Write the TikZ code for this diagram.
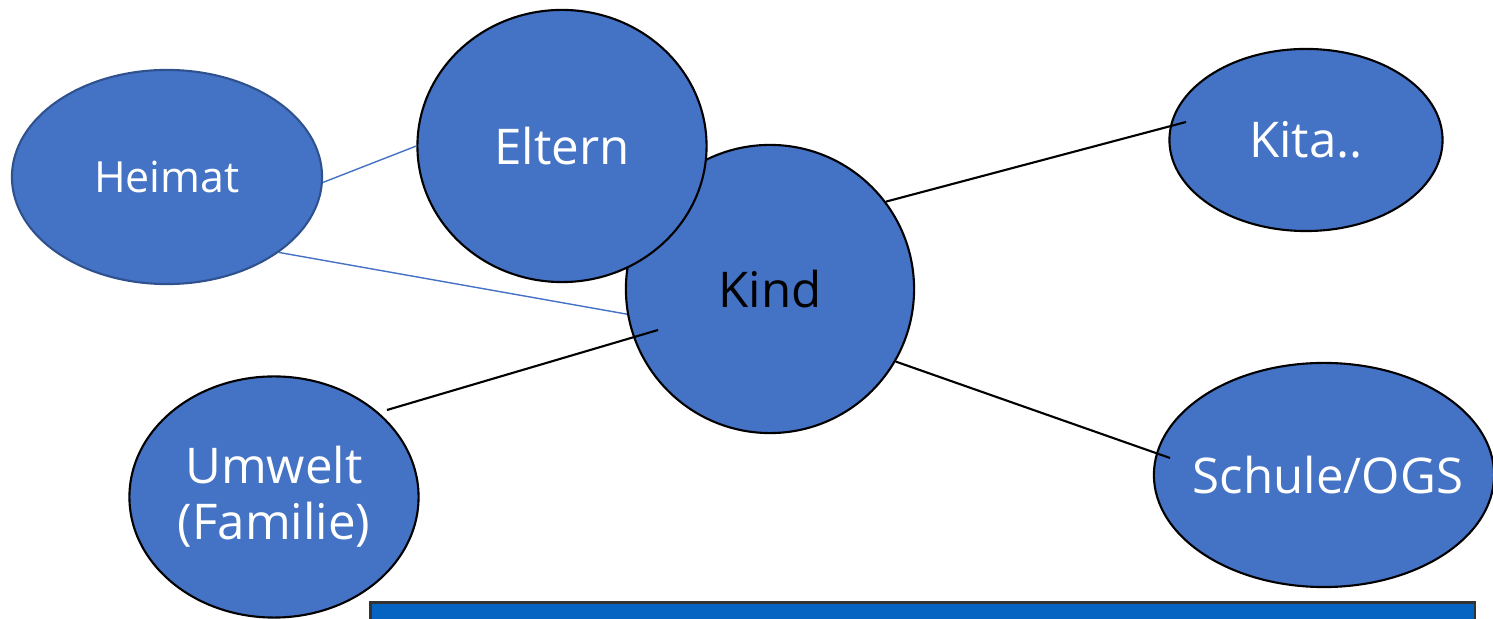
\documentclass[tikz,border=0pt]{standalone}
\usepackage{fontspec}
\setmainfont{Open Sans}
\usetikzlibrary{shapes.geometric}
\definecolor{fillblue}{HTML}{4472C4}
\definecolor{edgeblue}{HTML}{2F528F}
\definecolor{boxblue}{HTML}{0563C1}
\tikzset{
  bubble/.style={ellipse, draw=black, line width=0.6pt, fill=fillblue, inner sep=0pt, text=white, align=center},
  thinlink/.style={draw=fillblue, line width=0.4pt},
  blacklink/.style={draw=black, line width=0.6pt},
}
\begin{document}
\begin{tikzpicture}[x=0.01cm,y=-0.01cm]
\useasboundingbox (0,0) rectangle (1493,619);
% Kind first, Eltern drawn over it
\node[bubble, minimum width=2.88cm, minimum height=2.88cm, text=black, font=\fontsize{14}{16}\selectfont] (kind) at (770,289) {Kind};
\node[bubble, minimum width=2.89cm, minimum height=2.72cm, font=\fontsize{14}{16}\selectfont] (eltern) at (562,146) {Eltern};
\node[bubble, draw=edgeblue, minimum width=3.10cm, minimum height=2.14cm, font=\fontsize{12.2}{15}\selectfont] (heimat) at (167,177) {Heimat};
\node[bubble, minimum width=2.73cm, minimum height=1.82cm, font=\fontsize{14}{16}\selectfont] (kita) at (1306,140) {Kita..};
\node[bubble, minimum width=3.40cm, minimum height=2.24cm, font=\fontsize{14}{16}\selectfont] (schule) at (1324,475) {\makebox[0pt]{\hspace*{2.3pt}Schule/OGS}};
\node[bubble, minimum width=2.89cm, minimum height=2.41cm, font=\fontsize{14}{16}\selectfont] (umwelt) at (274,497) {Umwelt\\(Familie)};
% free ends
\coordinate (kitaend) at (1186,122);
\coordinate (schuleend) at (1170,458);
\coordinate (umweltend) at (387,410);
\coordinate (kindend) at (658,330);
% connectors
\draw[thinlink] (heimat.-2) -- (eltern.180);
\draw[thinlink] (heimat.-34) -- (kind.190);
\draw[blacklink] (kind.37) -- (kitaend);
\draw[blacklink] (kind.-30) -- (schuleend);
\draw[blacklink] (umweltend) -- (kindend);
% bottom box
\node[draw=black!80, line width=0.8pt, fill=boxblue, minimum width=11.04cm, minimum height=0.6cm, anchor=north west, inner sep=0pt] (box) at (369,601) {};
\end{tikzpicture}
\end{document}
